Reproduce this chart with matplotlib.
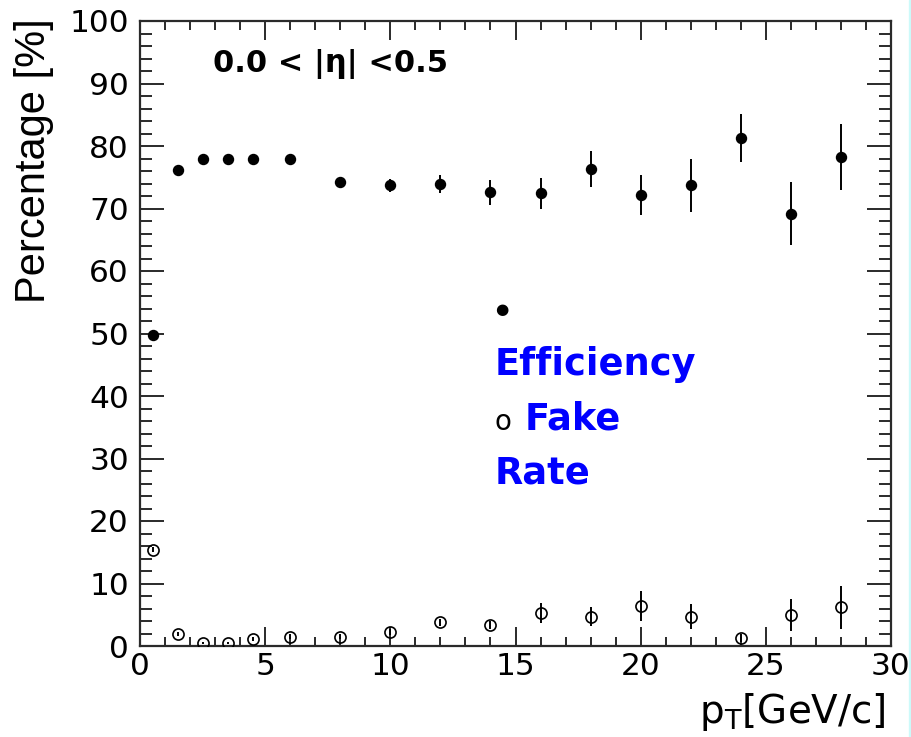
import matplotlib
matplotlib.use("Agg")
import matplotlib.pyplot as plt
from matplotlib.patches import Rectangle
from matplotlib.ticker import MultipleLocator

# ---- data ----
pt = [0.5, 1.5, 2.5, 3.5, 4.5, 6, 8, 10, 12, 14, 16, 18, 20, 22, 24, 26, 28]
efficiency = [49.7, 76.1, 78.0, 77.9, 77.9, 78.0, 74.2, 73.7, 73.9, 72.6, 72.4, 76.3, 72.1, 73.7, 81.3, 69.2, 78.2]
efficiency_err = [0.3, 0.4, 0.4, 0.4, 0.4, 0.5, 0.6, 1.1, 1.5, 2.0, 2.5, 2.9, 3.2, 4.2, 3.8, 5.0, 5.3]
fake_rate = [15.4, 1.9, 0.5, 0.5, 1.1, 1.5, 1.5, 2.3, 3.8, 3.4, 5.3, 4.7, 6.4, 4.7, 1.3, 5.0, 6.2]
fake_rate_err = [0.4, 0.3, 0.2, 0.2, 0.3, 0.4, 0.4, 0.5, 0.6, 0.6, 1.6, 1.5, 2.4, 2.0, 0.6, 2.6, 3.4]
xticks = [0, 5, 10, 15, 20, 25, 30]
yticks = [0, 10, 20, 30, 40, 50, 60, 70, 80, 90, 100]

W, H = 912, 737
fig = plt.figure(figsize=(W / 100, H / 100), dpi=100)
fig.patch.set_facecolor("white")
fig.patches.append(Rectangle((909 / W, 0), 1 - 909 / W, 1, transform=fig.transFigure,
                             color="#ccfafa", zorder=0))

ax = fig.add_axes([140 / W, (H - 646) / H, (891 - 140) / W, (646 - 21) / H])
ax.set_xlim(0, 30)
ax.set_ylim(0, 100)

frame_col = "#2a2a2a"
for s in ax.spines.values():
    s.set_linewidth(1.6)
    s.set_color(frame_col)

ax.set_xticks(xticks)
ax.set_xticklabels([str(v) for v in xticks])
ax.set_yticks(yticks)
ax.set_yticklabels([str(v) for v in yticks])
ax.xaxis.set_minor_locator(MultipleLocator(1))
ax.yaxis.set_minor_locator(MultipleLocator(2))

ax.tick_params(axis="x", which="major", direction="in", length=13.5, width=1.4,
               top=True, bottom=True, color=frame_col, labelsize=22.5, pad=4)
ax.tick_params(axis="x", which="minor", direction="in", length=6.8, width=1.4,
               top=True, bottom=True, color=frame_col)
ax.tick_params(axis="y", which="major", direction="in", length=17.3, width=1.4,
               left=True, right=True, color=frame_col, labelsize=22.5, pad=8)
ax.tick_params(axis="y", which="minor", direction="in", length=8.8, width=1.4,
               left=True, right=True, color=frame_col)
for lab in ax.get_xticklabels() + ax.get_yticklabels():
    lab.set_fontfamily("DejaVu Sans")

ax.errorbar(pt, efficiency, yerr=efficiency_err, fmt="o", color="black",
            markersize=7.2, elinewidth=1.4, capsize=0, zorder=3)
ax.errorbar(pt, fake_rate, yerr=fake_rate_err, fmt="o", color="black",
            markerfacecolor="none", markeredgewidth=1.2,
            markersize=8, elinewidth=1.4, capsize=0, zorder=3)


def fx(px):
    return px / W


def fy(py):
    return 1 - py / H


# axis titles
fig.text(fx(14), fy(18), "Percentage [%]", rotation=90, ha="left", va="top",
         fontsize=30, family="Liberation Sans")
fig.text(fx(886), fy(723), r"p$_\mathrm{T}$[GeV/c]", ha="right", va="baseline",
         fontsize=28, family="DejaVu Sans")

# annotation
fig.text(fx(213), fy(72), "0.0 < |η| <0.5", ha="left", va="baseline",
         fontsize=22, fontweight="bold", family="DejaVu Sans")

# legend-like text
blue = "#0000ff"
fig.text(fx(502), fy(309), "●", ha="center", va="center", fontsize=11,
         color="black", family="DejaVu Sans")
fig.text(fx(495), fy(375), "Efficiency", ha="left", va="baseline", fontsize=26.5,
         fontweight="bold", color=blue, family="DejaVu Sans")
fig.text(fx(495), fy(430), "o", ha="left", va="baseline", fontsize=20,
         color="black", family="DejaVu Sans")
fig.text(fx(525), fy(430), "Fake", ha="left", va="baseline", fontsize=26.5,
         fontweight="bold", color=blue, family="DejaVu Sans")
fig.text(fx(495), fy(483), "Rate", ha="left", va="baseline", fontsize=26.5,
         fontweight="bold", color=blue, family="DejaVu Sans")

fig.savefig("out.png", dpi=100)
